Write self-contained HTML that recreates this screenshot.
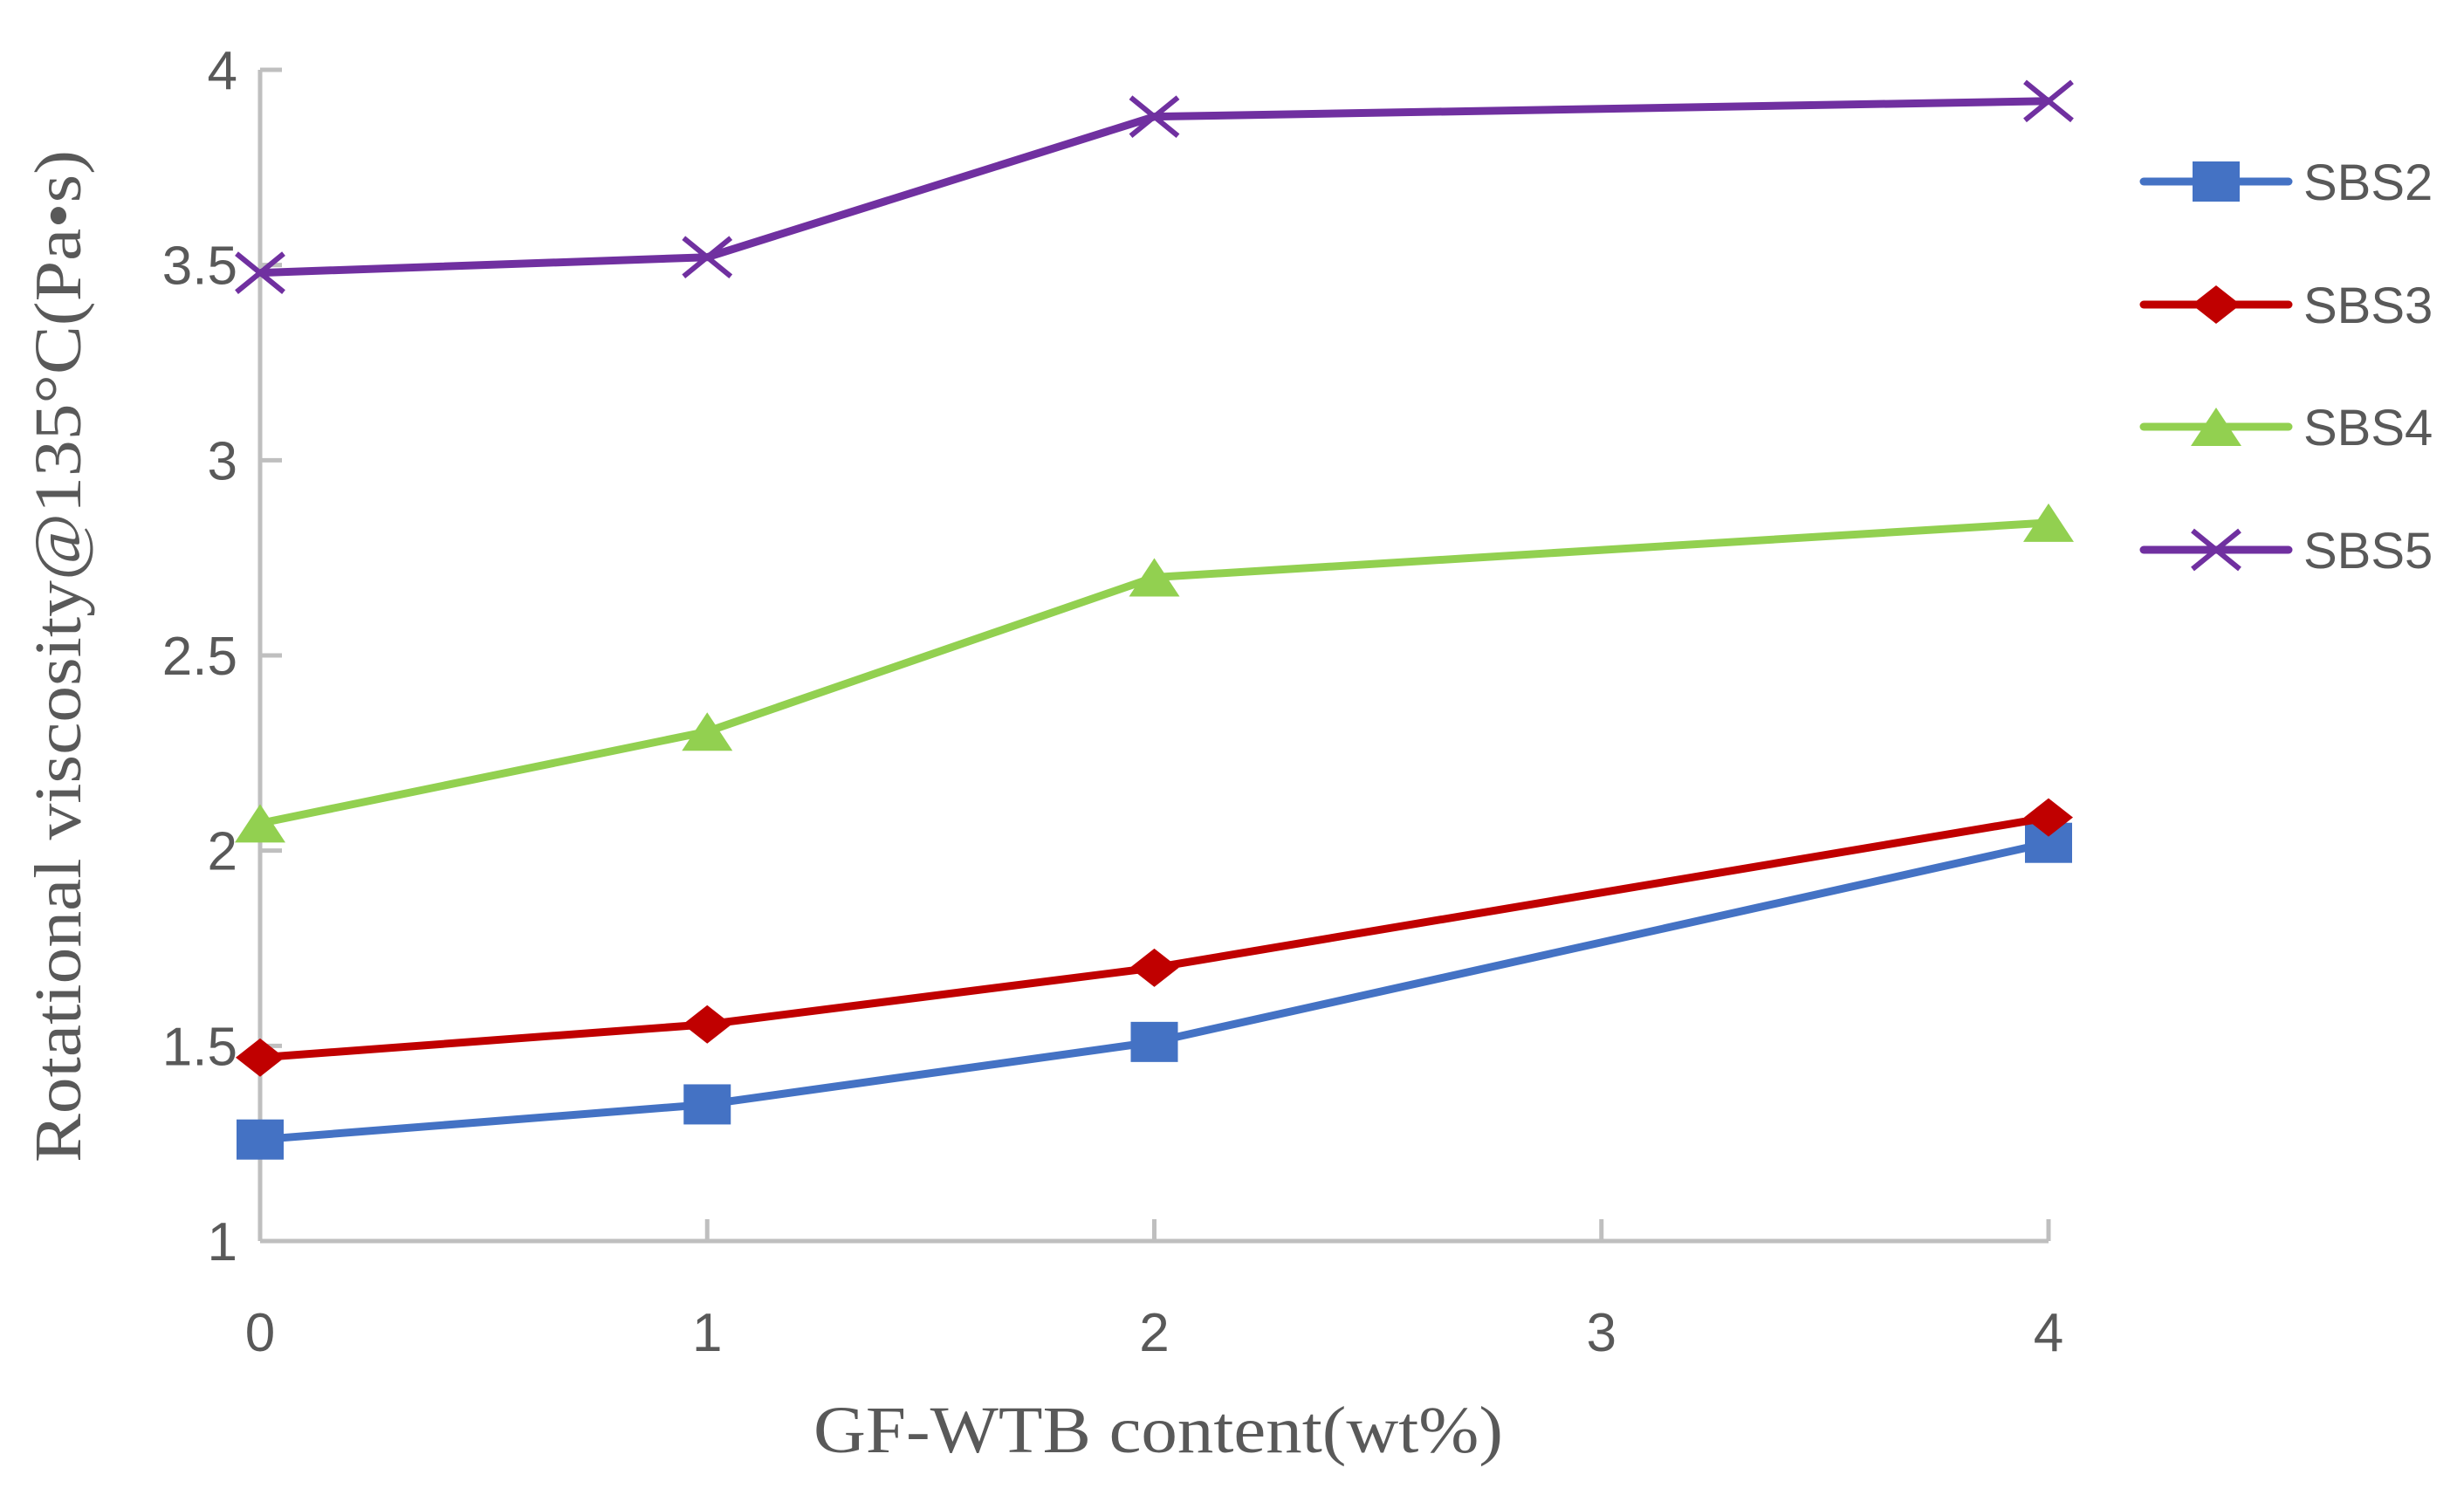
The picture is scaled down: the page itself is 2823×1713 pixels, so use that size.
<!DOCTYPE html>
<html><head><meta charset="utf-8"><style>body{margin:0;background:#fff}svg{display:block}</style></head>
<body>
<svg id="chart" width="2823" height="1713" xmlns="http://www.w3.org/2000/svg">
<g id="axes"></g>
<g id="series"></g>
<g id="legend"></g>
<text transform="translate(92,752) rotate(-90)" text-anchor="middle" font-family="Liberation Serif, serif" font-size="76" fill="#595959" textLength="1160" lengthAdjust="spacingAndGlyphs">Rotational viscosity@135°C(Pa•s)</text>
<text x="1327" y="1664" text-anchor="middle" font-family="Liberation Serif, serif" font-size="76" fill="#595959" textLength="790" lengthAdjust="spacingAndGlyphs">GF-WTB content(wt%)</text>
</svg>
<script>
const xCats = [0, 1, 2, 3, 4];
const yTicks = [1, 1.5, 2, 2.5, 3, 3.5, 4];
const yTickLabels = ["1", "1.5", "2", "2.5", "3", "3.5", "4"];
const seriesX = [0, 1, 2, 4];
const sbs2 = [1.26, 1.35, 1.51, 2.02];
const sbs3 = [1.47, 1.555, 1.70, 2.085];
const sbs4 = [2.07, 2.305, 2.70, 2.84];
const sbs5 = [3.48, 3.52, 3.88, 3.92];
const seriesNames = ["SBS2", "SBS3", "SBS4", "SBS5"];

const NS = "http://www.w3.org/2000/svg";
const X0 = 298, X1 = 2347, Y0 = 1422, Y1 = 80;
const xS = v => X0 + (v - 0) / 4 * (X1 - X0);
const yS = v => Y0 - (v - 1) / 3 * (Y0 - Y1);
function mk(tag, attrs, parent) {
  const e = document.createElementNS(NS, tag);
  for (const k in attrs) e.setAttribute(k, attrs[k]);
  parent.appendChild(e); return e;
}
const axes = document.getElementById('axes');
let el = mk('line', {x1: X0, y1: Y1, x2: X0, y2: Y0, stroke: '#bfbfbf', 'stroke-width': 5}, axes);


el = mk('line', {x1: X0, y1: Y0, x2: X1, y2: Y0, stroke: '#bfbfbf', 'stroke-width': 5}, axes);


yTicks.forEach((t, i) => {
  const y = yS(t);
  const tk = mk('line', {x1: X0, y1: y, x2: X0 + 25, y2: y, stroke: '#bfbfbf', 'stroke-width': 5}, axes);
  
  
  const tx = mk('text', {x: 272, y: y + 22, 'text-anchor': 'end', 'font-family': 'Liberation Sans, sans-serif', 'font-size': 62, fill: '#595959'}, axes);
  tx.textContent = yTickLabels[i];
  
  
});
xCats.forEach(c => {
  const x = xS(c);
  const tk = mk('line', {x1: x, y1: Y0, x2: x, y2: Y0 - 25, stroke: '#bfbfbf', 'stroke-width': 5}, axes);
  
  
  const tx = mk('text', {x: x, y: 1548, 'text-anchor': 'middle', 'font-family': 'Liberation Sans, sans-serif', 'font-size': 62, fill: '#595959'}, axes);
  tx.textContent = String(c);
  
  
});
const colors = ['#4472c4', '#c00000', '#92d050', '#7030a0'];
const shapes = ['square', 'diamond', 'triangle', 'x'];
function marker(g, shape, x, y, color) {
  let m;
  if (shape === 'square') m = mk('rect', {x: x - 27, y: y - 23, width: 54, height: 46, fill: color}, g);
  else if (shape === 'diamond') m = mk('polygon', {points: `${x-28},${y} ${x},${y-22} ${x+28},${y} ${x},${y+22}`, fill: color}, g);
  else if (shape === 'triangle') m = mk('polygon', {points: `${x-29},${y+22} ${x},${y-22} ${x+29},${y+22}`, fill: color}, g);
  else m = mk('path', {d: `M${x-27},${y-22}L${x+27},${y+22}M${x-27},${y+22}L${x+27},${y-22}`, stroke: color, 'stroke-width': 6, fill: 'none'}, g);
  return m;
}
const sg = document.getElementById('series');
[sbs2, sbs3, sbs4, sbs5].forEach((vals, si) => {
  const g = mk('g', {}, sg);
  
  
  const pts = vals.map((v, i) => xS(seriesX[i]) + ',' + yS(v)).join(' ');
  const pl = mk('polyline', {points: pts, fill: 'none', stroke: colors[si], 'stroke-width': 9, 'stroke-linejoin': 'round'}, g);
  
  
  vals.forEach((v, i) => {
    const m = marker(g, shapes[si], xS(seriesX[i]), yS(v), colors[si]);
    
    
  });
});
const lg = document.getElementById('legend');
const legendY = [208, 349, 489, 630];
seriesNames.forEach((n, i) => {
  const g = mk('g', {}, lg);
  
  
  const y = legendY[i];
  mk('line', {x1: 2456, y1: y, x2: 2622, y2: y, stroke: colors[i], 'stroke-width': 9, 'stroke-linecap': 'round'}, g);
  marker(g, shapes[i], 2539, y, colors[i]);
  const t = mk('text', {x: 2639, y: y + 21, 'font-family': 'Liberation Sans, sans-serif', 'font-size': 58, fill: '#595959'}, g);
  t.textContent = n;
  
  
});
</script>
</body></html>
